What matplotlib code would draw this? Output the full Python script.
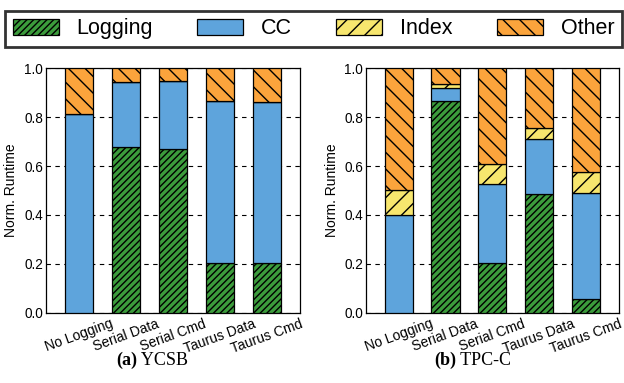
import matplotlib
matplotlib.use("Agg")
import matplotlib.pyplot as plt
from matplotlib.patches import Patch
from matplotlib.offsetbox import TextArea, HPacker, AnchoredOffsetbox
import numpy as np

categories = ["No Logging", "Serial Data", "Serial Cmd", "Taurus Data", "Taurus Cmd"]
components = ["Logging", "CC", "Index", "Other"]

ycsb_logging = [0.0, 0.679, 0.671, 0.202, 0.202]
ycsb_cc = [0.812, 0.266, 0.279, 0.663, 0.660]
ycsb_index = [0.0, 0.0, 0.0, 0.0, 0.0]
ycsb_other = [0.188, 0.055, 0.050, 0.135, 0.138]

tpcc_logging = [0.0, 0.868, 0.202, 0.486, 0.055]
tpcc_cc = [0.398, 0.053, 0.326, 0.226, 0.436]
tpcc_index = [0.103, 0.016, 0.080, 0.045, 0.086]
tpcc_other = [0.499, 0.063, 0.392, 0.243, 0.423]

captions = ["(a)", "(b)"]
caption_names = ["YCSB", "TPC-C"]

colors = ["#3c9c3c", "#5ea4dc", "#f7e66e", "#fba43c"]
hatches = ["/////", "", "//", "\\\\"]

plt.rcParams["font.family"] = ["Liberation Sans", "DejaVu Sans"]
plt.rcParams["hatch.linewidth"] = 1.0

fig = plt.figure(figsize=(6.24, 3.83), dpi=100)
ax1 = fig.add_axes([0.0732, 0.1836, 0.4075, 0.638])
ax2 = fig.add_axes([0.5865, 0.1836, 0.405, 0.638])

datasets = [
    [ycsb_logging, ycsb_cc, ycsb_index, ycsb_other],
    [tpcc_logging, tpcc_cc, tpcc_index, tpcc_other],
]

x = np.arange(len(categories))
for ax, data in zip([ax1, ax2], datasets):
    bottom = np.zeros(len(categories))
    for vals, c, h in zip(data, colors, hatches):
        vals = np.array(vals)
        ax.bar(x, vals, width=0.6, bottom=bottom, color=c, edgecolor="black",
               linewidth=0.9, hatch=h, zorder=3)
        bottom += vals
    ax.set_xlim(-0.7, 4.7)
    ax.set_ylim(0, 1.0)
    ax.set_yticks([0.0, 0.2, 0.4, 0.6, 0.8, 1.0])
    ax.set_yticklabels(["0.0", "0.2", "0.4", "0.6", "0.8", "1.0"], fontsize=9.8)
    ax.set_xticks(x)
    ax.set_xticklabels(categories, rotation=20, ha="center", fontsize=10)
    ax.tick_params(axis="both", length=0, pad=2)
    ax.tick_params(axis="x", pad=3)
    ax.yaxis.grid(True, linestyle=(0, (4, 4)), color="black", linewidth=0.8)
    ax.set_axisbelow(True)
    ax.set_ylabel("Norm. Runtime", fontsize=10, labelpad=4)
    for s in ax.spines.values():
        s.set_linewidth(0.9)

for xpos, cap, name in zip([0.244, 0.758], captions, caption_names):
    ta = TextArea(cap, textprops=dict(family="Liberation Serif", weight="bold", size=13))
    tb = TextArea(" " + name, textprops=dict(family="Liberation Serif", size=13))
    box = HPacker(children=[ta, tb], align="baseline", pad=0, sep=0)
    ab = AnchoredOffsetbox(loc="center", child=box, pad=0, frameon=False,
                           bbox_to_anchor=(xpos, 0.058), bbox_transform=fig.transFigure,
                           borderpad=0)
    fig.add_artist(ab)

handles = [Patch(facecolor=c, edgecolor="black", hatch=h, linewidth=0.9)
           for c, h in zip(colors, hatches)]
leg = fig.legend(handles, components, loc="lower left", ncol=4, mode="expand",
                 bbox_to_anchor=(5 / 624, 1 - 47 / 383, 617 / 624, 44 / 383),
                 fontsize=15.5, handlelength=2.14, handleheight=0.75,
                 handletextpad=0.84, frameon=True, fancybox=False,
                 borderaxespad=0, borderpad=0.35)
leg.get_frame().set_edgecolor("black")
leg.get_frame().set_linewidth(2)

fig.savefig("out.png", dpi=100)
